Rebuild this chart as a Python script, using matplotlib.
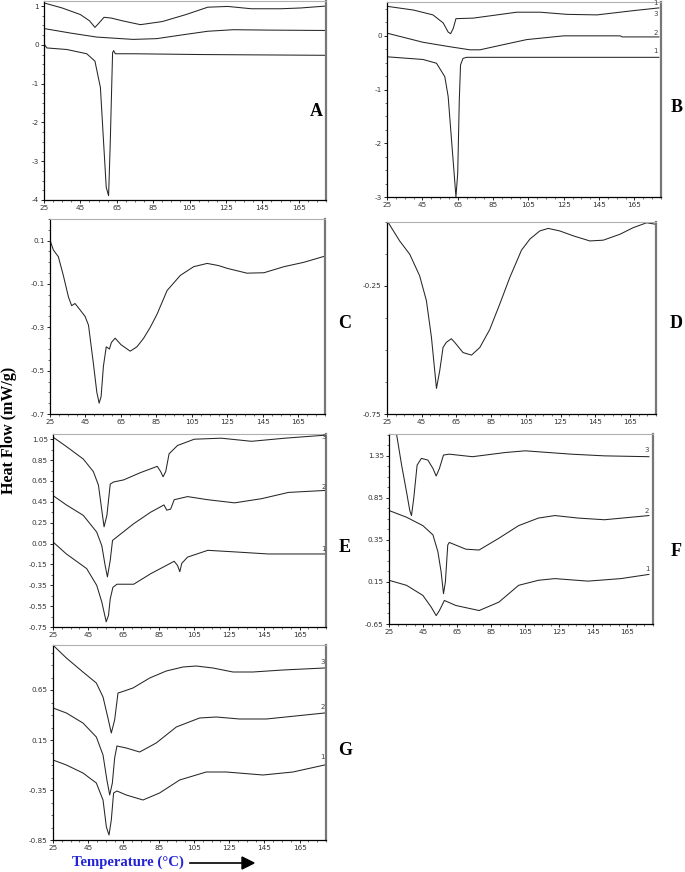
import matplotlib
matplotlib.use("Agg")
import matplotlib.pyplot as plt
from matplotlib.ticker import MultipleLocator, AutoMinorLocator
from matplotlib.lines import Line2D

plt.rcParams["axes.unicode_minus"] = False


# ---------- 1. data ---------------------------------------------------
# A
a3_t = [25, 35, 45, 50, 53, 55, 58, 62, 68, 78, 90, 103, 115, 126, 139, 155, 166, 180]
a3_q = [1.08, 0.95, 0.78, 0.62, 0.45, 0.55, 0.71, 0.69, 0.62, 0.52, 0.60, 0.78, 0.97, 0.99, 0.93, 0.93, 0.95, 1.0]
a2_t = [25, 40, 54, 74, 87, 100, 115, 129, 148, 180]
a2_q = [0.42, 0.30, 0.20, 0.14, 0.16, 0.25, 0.35, 0.39, 0.38, 0.37]
a1_t = [25, 26.5, 37.5, 48.5, 53, 56, 57.7, 59.2, 60.5, 61.4, 62, 62.7, 63.3, 64.2, 74, 111, 180]
a1_q = [0.03, -0.08, -0.12, -0.23, -0.42, -1.1, -2.47, -3.67, -3.89, -2.56, -1.45, -0.2, -0.15, -0.23, -0.23, -0.25, -0.27]

# B
b3_t = [25, 40, 51, 56.8, 59.6, 61, 62.5, 64, 73.8, 98.4, 111.6, 126.8, 143.8, 164.6, 178.8]
b3_q = [0.55, 0.48, 0.39, 0.24, 0.07, 0.04, 0.14, 0.32, 0.33, 0.44, 0.44, 0.40, 0.39, 0.47, 0.52]
b2_t = [25, 45.4, 60, 71.9, 77.6, 90, 104, 124.9, 157, 158, 178.8]
b2_q = [0.05, -0.12, -0.20, -0.26, -0.26, -0.17, -0.07, 0.0, 0.0, -0.02, -0.02]
b1_t = [25, 45.4, 53, 57.7, 59.6, 61.5, 63, 64, 65, 65.9, 66.6, 68, 70, 178.8]
b1_q = [-0.39, -0.44, -0.51, -0.76, -1.13, -1.94, -2.57, -3.0, -2.56, -1.19, -0.54, -0.42, -0.40, -0.40]

# C
c_t = [25.3, 26.9, 29.7, 32.5, 35.4, 37.2, 39.1, 42, 44.8, 46.7, 49.5, 51.4, 52.7, 53.8, 55.1, 56.7,
       58.5, 59.6, 61.7, 65, 70.2, 74, 77.8, 81.5, 85.3, 91, 98.5, 106, 113.6, 120, 125, 136, 145.6,
       156.9, 168, 180.5]
c_q = [0.095, 0.057, 0.026, -0.06, -0.16, -0.20, -0.19, -0.22, -0.25, -0.29, -0.47, -0.60, -0.65, -0.62,
       -0.48, -0.39, -0.40, -0.37, -0.35, -0.38, -0.41, -0.39, -0.35, -0.30, -0.24, -0.13, -0.06, -0.02,
       -0.005, -0.015, -0.028, -0.05, -0.048, -0.02, 0.0, 0.03]

# D
d_t = [25.5, 32.3, 38.1, 43.8, 47.7, 50.6, 53.5, 55.4, 57.3, 59.2, 62.1, 64, 68.8, 73.7, 78.5, 84.2,
       90, 95.8, 102.5, 107.3, 113, 117.9, 124.6, 132.3, 141.9, 149.6, 159.2, 166.9, 174.6, 180]
d_q = [0.0, -0.074, -0.126, -0.21, -0.307, -0.45, -0.65, -0.58, -0.49, -0.47, -0.456, -0.47, -0.51,
       -0.52, -0.49, -0.42, -0.32, -0.216, -0.11, -0.067, -0.035, -0.025, -0.035, -0.054, -0.074,
       -0.071, -0.048, -0.022, -0.003, -0.009]

# E
e3_t = [25, 32.6, 42.2, 47.9, 50.8, 52.7, 54, 55.6, 57.5, 59.4, 65.1, 74.7, 84.2, 86.1, 87.5, 89,
        90.9, 95.7, 105.2, 120.5, 137.7, 156.8, 180.6]
e3_q = [1.07, 0.98, 0.86, 0.74, 0.61, 0.37, 0.21, 0.32, 0.62, 0.64, 0.66, 0.73, 0.79, 0.74, 0.69,
        0.74, 0.91, 0.99, 1.05, 1.06, 1.03, 1.06, 1.09]
e2_t = [25, 32.6, 42.2, 49.8, 52.7, 54.6, 55.9, 57.5, 58.8, 60.3, 70.8, 80.4, 88, 89.6, 91.8, 93.8,
        101.4, 112.9, 128.1, 143.4, 158.7, 180.6]
e2_q = [0.51, 0.42, 0.32, 0.16, 0.03, -0.16, -0.27, -0.11, 0.08, 0.10, 0.24, 0.35, 0.42, 0.37, 0.38,
        0.47, 0.50, 0.47, 0.44, 0.48, 0.54, 0.56]
e1_t = [25, 32.6, 44.1, 49.8, 52.7, 55.2, 56.5, 57.5, 59, 61.3, 70.8, 80.4, 93.8, 95.7, 97, 98.1,
        101.4, 112.9, 128.1, 147.2, 180.6]
e1_q = [0.065, -0.05, -0.19, -0.35, -0.51, -0.70, -0.64, -0.48, -0.37, -0.34, -0.34, -0.24, -0.12,
        -0.16, -0.22, -0.14, -0.08, -0.015, -0.03, -0.05, -0.05]

# F
f3_t = [29.5, 32.4, 35.3, 37.2, 38.2, 39.5, 41.5, 44, 47.8, 50.8, 52.7, 54.6, 57, 60.4, 74, 93.4,
        105, 132, 151.5, 177.6]
f3_q = [1.6, 1.24, 0.92, 0.70, 0.64, 0.84, 1.24, 1.32, 1.30, 1.20, 1.11, 1.20, 1.36, 1.37, 1.34,
        1.39, 1.41, 1.37, 1.35, 1.34]
f2_t = [25, 35.3, 44.9, 50.8, 53.7, 55.6, 57, 58.1, 59.5, 60.4, 70.1, 77.9, 89.5, 101.1, 112.7,
        122.4, 136, 151.5, 177.6]
f2_q = [0.70, 0.62, 0.52, 0.41, 0.21, -0.03, -0.29, -0.15, 0.29, 0.32, 0.24, 0.23, 0.37, 0.52, 0.61,
        0.64, 0.61, 0.59, 0.64]
f1_t = [25, 35.3, 44.9, 49.8, 52.7, 54.6, 57.5, 64.3, 77.9, 89.5, 101.1, 112.7, 122.4, 141.8, 161.1, 177.6]
f1_q = [-0.13, -0.19, -0.31, -0.45, -0.55, -0.49, -0.37, -0.43, -0.49, -0.39, -0.19, -0.13, -0.11,
        -0.14, -0.11, -0.06]
f_ticks = [1.35, 0.85, 0.35, -0.15, -0.65]
f_tick_labels = ["1.35", "0.85", "0.35", "0.15", "-0.65"]

# G
g3_t = [25.5, 32.6, 42, 49.6, 53.4, 56.2, 58.1, 60, 61.9, 63.8, 70.4, 79.9, 89.3, 98.8, 106.3,
        115.8, 127.2, 138.5, 155.5, 179.2]
g3_q = [1.09, 0.97, 0.83, 0.72, 0.58, 0.37, 0.22, 0.35, 0.62, 0.63, 0.67, 0.77, 0.84, 0.88, 0.89,
        0.87, 0.83, 0.83, 0.85, 0.87]
g2_t = [25, 32.6, 42, 49.6, 53.4, 55.6, 57.2, 58.7, 60, 61.3, 66.6, 74.2, 83.6, 95, 108.2, 117.7,
        130.9, 146.1, 179.2]
g2_q = [0.47, 0.42, 0.32, 0.18, 0.0, -0.25, -0.40, -0.28, -0.03, 0.09, 0.07, 0.03, 0.12, 0.28, 0.37,
        0.38, 0.36, 0.36, 0.42]
g1_t = [25, 32.6, 42, 49.6, 53.4, 55.3, 56.8, 58.1, 59.4, 61.3, 66.6, 76.1, 85.5, 96.9, 112, 123.4,
        144.2, 161.2, 179.2]
g1_q = [-0.05, -0.10, -0.18, -0.28, -0.45, -0.72, -0.80, -0.65, -0.38, -0.36, -0.40, -0.45, -0.38,
        -0.25, -0.17, -0.17, -0.20, -0.17, -0.10]

x_ticks = [25, 45, 65, 85, 105, 125, 145, 165]

W, H = 685, 872
LINE = "#262626"


# ---------- 2. helpers ------------------
def make_ax(fig, left, top, right, bottom):
    # pixel box -> figure fraction
    ax = fig.add_axes([left / W, 1 - bottom / H, (right - left) / W, (bottom - top) / H])
    ax.set_xlim(25, 180)
    ax.set_xticks(x_ticks)
    ax.xaxis.set_minor_locator(MultipleLocator(5))
    ax.yaxis.set_minor_locator(AutoMinorLocator(4))
    ax.tick_params(which="major", length=2.5, width=0.6, labelsize=5.2,
                   labelcolor="#333333", pad=1.2, direction="out")
    ax.tick_params(which="minor", length=1.3, width=0.4, direction="out")
    ax.tick_params(top=False, right=False, which="both")
    ax.spines["left"].set_linewidth(0.9)
    ax.spines["bottom"].set_linewidth(0.9)
    ax.spines["right"].set_color("#777777")
    ax.spines["right"].set_linewidth(1.6)
    ax.spines["top"].set_color("#b0b0b0")
    ax.spines["top"].set_linewidth(0.8)
    return ax


def curve(ax, t, q):
    ax.plot(t, q, color=LINE, lw=0.75)


def tag(ax, x, y, s):
    ax.text(x, y, s, fontsize=5, color="#444444", ha="center", va="center")


def panel_label(fig, x, y, s):
    fig.text(x / W, 1 - y / H, s, fontsize=13, fontweight="bold",
             family="Liberation Serif", ha="center", va="center")


# ---------- 3. figure -------------------
fig = plt.figure(figsize=(W / 100, H / 100), dpi=100)

ax = make_ax(fig, 44, 1, 326, 200)
ax.set_ylim(-4, 1.13)
ax.set_yticks([1, 0, -1, -2, -3, -4])
for t, q in [(a3_t, a3_q), (a2_t, a2_q), (a1_t, a1_q)]:
    curve(ax, t, q)

ax = make_ax(fig, 387, 2, 661, 197)
ax.set_ylim(-3, 0.63)
ax.set_yticks([0, -1, -2, -3])
for t, q in [(b3_t, b3_q), (b2_t, b2_q), (b1_t, b1_q)]:
    curve(ax, t, q)
for y, s in [(0.61, "1"), (0.41, "3"), (0.05, "2"), (-0.29, "1")]:
    tag(ax, 177, y, s)

ax = make_ax(fig, 50, 219, 325, 414)
ax.set_ylim(-0.7, 0.2)
ax.set_yticks([0.1, -0.1, -0.3, -0.5, -0.7])
curve(ax, c_t, c_q)

ax = make_ax(fig, 387, 222, 656, 414)
ax.set_ylim(-0.75, 0.0)
ax.set_yticks([-0.25, -0.75])
curve(ax, d_t, d_q)

ax = make_ax(fig, 53, 434, 326, 627)
ax.set_ylim(-0.75, 1.10)
ax.set_yticks([1.05, 0.85, 0.65, 0.45, 0.25, 0.05, -0.15, -0.35, -0.55, -0.75])
ax.yaxis.set_minor_locator(AutoMinorLocator(2))
for t, q in [(e3_t, e3_q), (e2_t, e2_q), (e1_t, e1_q)]:
    curve(ax, t, q)
for y, s in [(1.07, "3"), (0.59, "2"), (0.0, "1")]:
    tag(ax, 178.5, y, s)

ax = make_ax(fig, 389, 434, 653, 624)
ax.set_ylim(-0.65, 1.61)
ax.set_yticks(f_ticks)
ax.set_yticklabels(f_tick_labels)
for t, q in [(f3_t, f3_q), (f2_t, f2_q), (f1_t, f1_q)]:
    curve(ax, t, q)
for y, s in [(1.42, "3"), (0.70, "2"), (0.01, "1")]:
    tag(ax, 176.5, y, s)

ax = make_ax(fig, 53, 645, 326, 840)
ax.set_ylim(-0.85, 1.1)
ax.set_yticks([0.65, 0.15, -0.35, -0.85])
for t, q in [(g3_t, g3_q), (g2_t, g2_q), (g1_t, g1_q)]:
    curve(ax, t, q)
for y, s in [(0.93, "3"), (0.48, "2"), (-0.02, "1")]:
    tag(ax, 178, y, s)

# panel letters
for x, y, s in [(316, 111, "A"), (677, 107, "B"), (345, 323, "C"), (676, 323, "D"),
                (345, 548, "E"), (676, 552, "F"), (345, 750, "G")]:
    panel_label(fig, x, y, s)

# axis titles
fig.text(9 / W, 1 - 430 / H, "Heat Flow (mW/g)", rotation=90, fontsize=11.5,
         fontweight="bold", family="Liberation Serif", ha="center", va="center")
fig.text(72 / W, 1 - 862 / H, "Temperature (°C)", fontsize=10.6, fontweight="bold",
         family="Liberation Serif", color="#2323d8", ha="left", va="center")
fig.add_artist(Line2D([190 / W, 244 / W], [1 - 863 / H, 1 - 863 / H], color="black", lw=1.2))
fig.patches.append(plt.Polygon([[242 / W, 1 - 857 / H], [254 / W, 1 - 863 / H], [242 / W, 1 - 869 / H]],
                               closed=True, color="black", transform=fig.transFigure, figure=fig))

fig.savefig("out.png", dpi=100)
